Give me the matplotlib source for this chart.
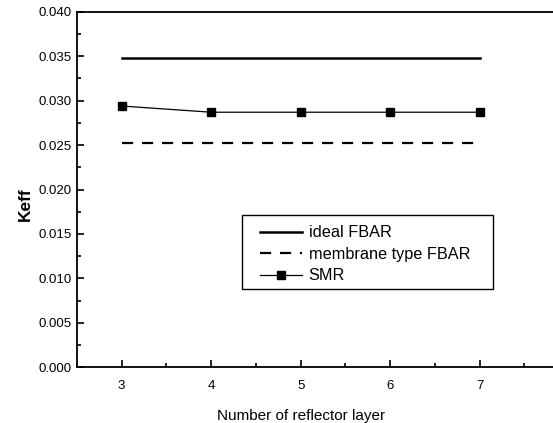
import matplotlib
matplotlib.use("Agg")
import matplotlib.pyplot as plt
from matplotlib.patches import Rectangle
from matplotlib.ticker import MultipleLocator

plt.rcParams["font.family"] = ["Liberation Sans", "DejaVu Sans"]

layers = [3, 4, 5, 6, 7]
ideal_fbar = [0.0348, 0.0348, 0.0348, 0.0348, 0.0348]
membrane_fbar = [0.0252, 0.0252, 0.0252, 0.0252, 0.0252]
smr = [0.0294, 0.0287, 0.0287, 0.0287, 0.0287]

fig = plt.figure(figsize=(5.53, 4.23), dpi=100)
ax = fig.add_axes([0.139, 0.132, 0.861, 0.840])

ax.plot(layers, ideal_fbar, color="black", lw=1.8, label="ideal FBAR")
ax.plot(layers, membrane_fbar, color="black", lw=1.6, ls=(0, (5, 4)),
        label="membrane type FBAR")
ax.plot(layers, smr, color="black", lw=0.9, marker="s", ms=5.5,
        label="SMR")

ax.set_xlim(2.5, 7.82)
ax.set_ylim(0, 0.040)
ax.set_xticks(layers)
ax.xaxis.set_minor_locator(MultipleLocator(0.5))
ax.yaxis.set_major_locator(MultipleLocator(0.005))
ax.yaxis.set_minor_locator(MultipleLocator(0.0025))
ax.yaxis.set_major_formatter(plt.FormatStrFormatter("%.3f"))
ax.tick_params(which="both", direction="in", labelsize=9.5, width=1.2)
ax.tick_params(which="major", length=5)
ax.tick_params(which="minor", length=3)
ax.tick_params(axis="x", pad=9)
ax.spines["right"].set_visible(False)
for s in ("left", "bottom", "top"):
    ax.spines[s].set_linewidth(1.3)

ax.set_ylabel("Keff", fontsize=12.5, fontweight="bold")
ax.yaxis.set_label_coords(-0.093, 0.46)
ax.set_xlabel("Number of reflector layer", fontsize=11)
ax.xaxis.set_label_coords(0.47, -0.118)

# legend frame drawn separately (wider side padding than top/bottom)
ax.add_patch(Rectangle((0.3466, 0.2197), 0.5274, 0.2083, transform=ax.transAxes,
                       fill=True, facecolor="white", edgecolor="black", lw=1.0,
                       zorder=4))
leg = ax.legend(loc="upper left", bbox_to_anchor=(0.3845, 0.399), fontsize=11.7,
                frameon=False, handlelength=2.6, borderpad=0, labelspacing=0.4,
                handletextpad=0.4, borderaxespad=0)
leg.set_zorder(5)

fig.savefig("out.png", dpi=100)
